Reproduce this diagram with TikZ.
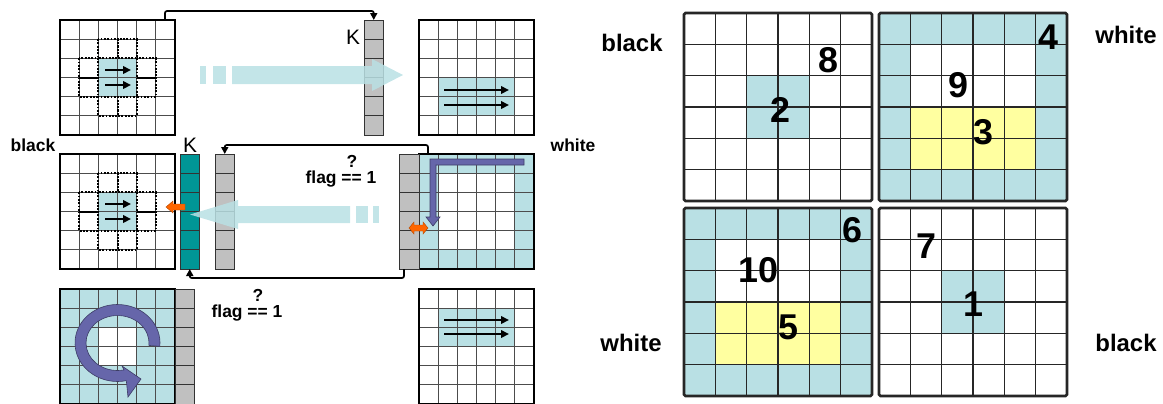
\documentclass[tikz,border=0pt]{standalone}
\usepackage{fontspec}
\setmainfont{Liberation Sans}
\usetikzlibrary{arrows.meta,calc}
\definecolor{lb}{RGB}{185,224,228}
\definecolor{ylw}{RGB}{255,255,160}
\definecolor{gry}{RGB}{192,192,192}
\definecolor{tl}{RGB}{0,150,150}
\definecolor{org}{RGB}{255,102,0}
\definecolor{prp}{RGB}{102,102,170}
\newcommand\gridlines[4]{%
  \foreach \k in {1,...,5}{%
    \draw[#4] ({#1+\k*#3},#2) -- ({#1+\k*#3},{#2+6*#3});
    \draw[#4] (#1,{#2+\k*#3}) -- ({#1+6*#3},{#2+\k*#3});
  }}
\newcommand\colcells[4]{%
  \foreach \k in {1,...,5}{\draw[cline] (#1,{#2+\k*#4}) -- ++(#3,0);}}
\newcommand\dotcross[2]{%
  \foreach \cc/\rr in {2/1,3/1,1/2,1/3,4/2,4/3,2/4,3/4}{%
    \draw[dotcell] ({#1+\cc*19.1667},{#2+\rr*19.1667}) rectangle ++(19.1667,19.1667);}}
\tikzset{
  lgbox/.style={draw=black, line width=1.4bp, minimum width=115bp, minimum height=115bp, inner sep=0, outer sep=0, anchor=north west},
  rgbox/.style={draw=black!85, line width=2.6bp, rounded corners=1.5bp, minimum width=188bp, minimum height=188bp, inner sep=0, outer sep=0, anchor=north west},
  colbox/.style={draw=black!80, line width=1bp, minimum width=19.5bp, minimum height=115bp, inner sep=0, outer sep=0, anchor=north west},
  lgline/.style={draw=black!70, line width=0.85bp},
  rgline/.style={draw=black!85, line width=1.1bp},
  cline/.style={draw=black!80, line width=1bp},
  dotcell/.style={draw=black, line width=2bp, dash pattern=on 1.8bp off 1.5bp},
  blk/.style={line width=2.4bp, -{Triangle[length=8bp,width=7.5bp]}},
  conn/.style={line width=1.7bp, rounded corners=2bp, -{Triangle[length=7bp,width=7bp]}},
  bigarrow/.style={fill=lb, fill opacity=0.85},
  lbl/.style={font=\bfseries\fontsize{17.5}{17.5}\selectfont, inner sep=0},
  rlbl/.style={font=\bfseries\fontsize{24}{24}\selectfont, inner sep=0},
  num/.style={font=\bfseries\fontsize{36}{36}\selectfont, inner sep=0},
  klbl/.style={font=\fontsize{21}{21}\selectfont, inner sep=0},
  orangearr/.style={fill=org, draw=org!70!black, line width=0.4bp},
  purplearr/.style={fill=prp, draw=prp!60!black, line width=0.6bp},
}
\begin{document}
\begin{tikzpicture}[x=1bp,y=-1bp]
\useasboundingbox (0,0) rectangle (1163,403);

% ---------- grid A (top left)
\fill[lb] (98.33,58.33) rectangle (136.67,96.67);
\gridlines{60}{20}{19.1667}{lgline}
\dotcross{60}{20}
\node[lgbox] (gA) at (60,20) {};
\draw[blk] (105,70) -- (131,70);
\draw[blk] (105,85) -- (131,85);

% ---------- K column top
\node[colbox, fill=gry] (kA) at (364,20) {};
\colcells{364}{20}{19.5}{19.1667}
\node[klbl] (lK1) at (353,37) {K};

% ---------- grid D (top right)
\fill[lb] (438.17,77.5) rectangle (514.83,115.83);
\gridlines{419}{20}{19.1667}{lgline}
\node[lgbox] (gD) at (419,20) {};
\draw[blk] (444,90) -- (509,90);
\draw[blk] (444,105) -- (509,105);

% top big arrow
\fill[bigarrow] (200,66) rectangle (206,84);
\fill[bigarrow] (213,66) rectangle (226,84);
\fill[bigarrow] (232,66) -- (372,66) -- (372,59) -- (403,75) -- (372,91) -- (372,84) -- (232,84) -- cycle;

\draw[conn] ($(gA.north east)+(-10,0)$) -- ++(0,-9) -| (kA.north);

% ---------- grid B (middle left)
\fill[lb] (98.33,192.33) rectangle (136.67,230.67);
\gridlines{60}{154}{19.1667}{lgline}
\dotcross{60}{154}
\node[lgbox] (gB) at (60,154) {};
\draw[blk] (105,204) -- (131,204);
\draw[blk] (105,219) -- (131,219);

\node[colbox, fill=tl] (kB) at (180,154) {};
\colcells{180}{154}{19.5}{19.1667}
\node[klbl] (lK2) at (190,145) {K};
\node[colbox, fill=gry] (kB2) at (215,154) {};
\colcells{215}{154}{19.5}{19.1667}

% ---------- grid E (middle right)
\fill[lb] (419,154) rectangle ++(115,115);
\fill[white] (438.17,173.17) rectangle ++(76.67,76.67);
\gridlines{419}{154}{19.1667}{lgline}
\node[lgbox] (gE) at (419,154) {};
\node[colbox, fill=gry] (kE) at (399.5,154) {};
\colcells{399.5}{154}{19.5}{19.1667}

% middle big arrow
\fill[bigarrow] (373,206) rectangle (379,223);
\fill[bigarrow] (356,206) rectangle (368,223);
\fill[bigarrow] (350,206) -- (238,206) -- (238,200) -- (190,214.5) -- (238,229) -- (238,223) -- (350,223) -- cycle;

% orange arrows
\path[orangearr] (166,207) -- (173,201) -- (173,204) -- (185,204) -- (185,210) -- (173,210) -- (173,213) -- cycle;
\path[orangearr] (409,228) -- (414,222) -- (414,225) -- (423,225) -- (423,222) -- (428,228) -- (423,234) -- (423,231) -- (414,231) -- (414,234) -- cycle;

% purple L arrow
\path[purplearr] (524,159) -- (430,159) -- (430,217) -- (426,217) -- (433,226) -- (440,217) -- (436,217) -- (436,165) -- (524,165) -- cycle;

\draw[conn] ($(gE.north west)+(9,0)$) -- ++(0,-9) -| (kB2.north);
\draw[conn] ($(kE.south west)+(4.5,0)$) -- ++(0,9) -| (kB.south);

\node[lbl] (qm1) at (352,161) {?};
\node[lbl] (fl1) at (341,179) {flag == 1};
\node[lbl] (qm2) at (258,295) {?};
\node[lbl] (fl2) at (247,313) {flag == 1};
\node[lbl] (lblack) at (33,145) {black};
\node[lbl] (lwhite) at (573,145) {white};

% ---------- grid C (bottom left)
\fill[lb] (60,289) rectangle ++(115,115);
\fill[white] (98.33,327.33) rectangle ++(38.33,38.33);
\gridlines{60}{289}{19.1667}{lgline}
\node[lgbox] (gC) at (60,289) {};
\node[colbox, fill=gry] (kC) at (175,289) {};
\colcells{175}{289}{19.5}{19.1667}
\path[purplearr] (117.5,343) ++(5:42.5 and 38.5) arc[start angle=5, end angle=-282, x radius=42.5, y radius=38.5]
  -- (128,397) -- (141,379) -- (122,366) -- ($(117.5,343)+(-282:31.5 and 27.5)$)
  arc[start angle=-282, end angle=5, x radius=31.5, y radius=27.5] -- cycle;

% ---------- grid F (bottom right)
\fill[lb] (438.17,308.17) rectangle (514.83,346.5);
\gridlines{419}{289}{19.1667}{lgline}
\node[lgbox] (gF) at (419,289) {};
\draw[blk] (444,320) -- (509,320);
\draw[blk] (444,334) -- (509,334);

% ---------- right part
% R1
\fill[lb] (746.67,75.67) rectangle ++(62.67,62.67);
\gridlines{684}{13}{31.333}{rgline}
\node[rgbox] (R1) at (684,13) {};
% R2
\fill[lb] (879,13) rectangle ++(188,188);
\fill[white] (910.33,44.33) rectangle ++(125.33,62.67);
\fill[ylw] (910.33,107) rectangle ++(125.33,62.67);
\gridlines{879}{13}{31.333}{rgline}
\node[rgbox] (R2) at (879,13) {};
% R3
\fill[lb] (684,208) rectangle ++(188,188);
\fill[white] (715.33,239.33) rectangle ++(125.33,62.67);
\fill[ylw] (715.33,302) rectangle ++(125.33,62.67);
\gridlines{684}{208}{31.333}{rgline}
\node[rgbox] (R3) at (684,208) {};
% R4
\fill[lb] (941.67,270.67) rectangle ++(62.67,62.67);
\gridlines{879}{208}{31.333}{rgline}
\node[rgbox] (R4) at (879,208) {};

\node[num] (n8) at (828,60) {8};
\node[num] (n2) at (780,110) {2};
\node[num] (n4) at (1048,37.5) {4};
\node[num] (n9) at (958,85) {9};
\node[num] (n3) at (983,132.5) {3};
\node[num] (n6) at (852,230) {6};
\node[num] (n10) at (758,270) {10};
\node[num] (n5) at (788,327) {5};
\node[num] (n7) at (926,246) {7};
\node[num] (n1) at (973,304) {1};

\node[rlbl] (rb1) at (632,43) {black};
\node[rlbl] (rw1) at (1126,35) {white};
\node[rlbl] (rw2) at (631,343) {white};
\node[rlbl] (rb2) at (1126,343) {black};
\end{tikzpicture}
\end{document}
